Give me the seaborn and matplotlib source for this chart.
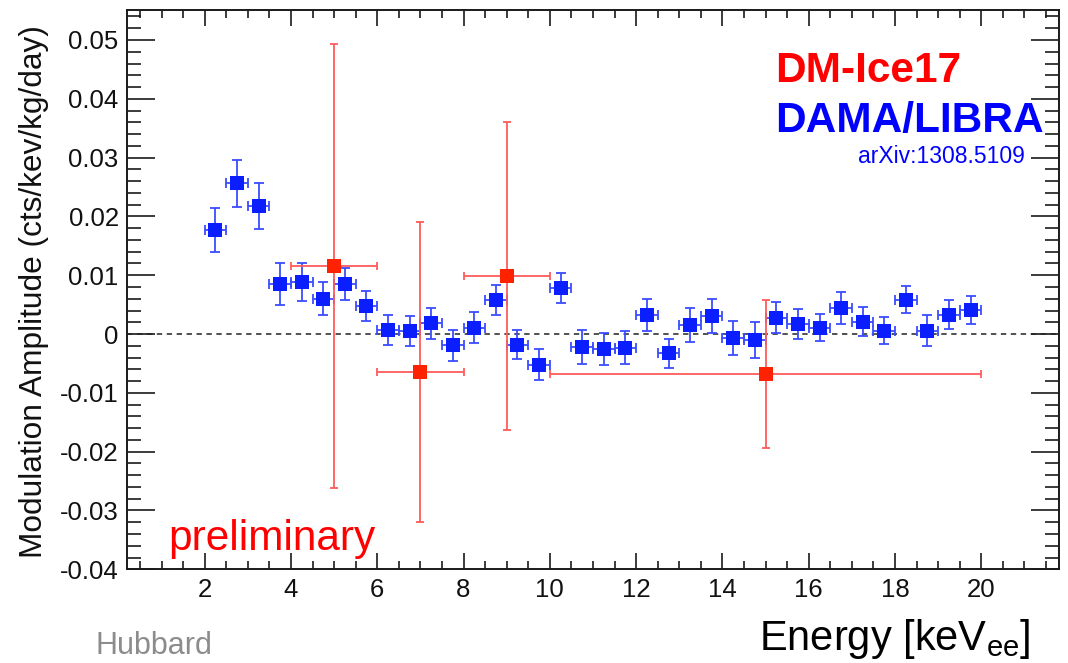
import numpy as np
import pandas as pd
import matplotlib
matplotlib.use("Agg")
import matplotlib.pyplot as plt
from matplotlib.ticker import MultipleLocator, FixedLocator, FuncFormatter
import seaborn as sns

# ---------------- data ----------------
# DAMA/LIBRA modulation amplitudes (arXiv:1308.5109), 0.5 keV bins
dama_energy = [2.25, 2.75, 3.25, 3.75, 4.25, 4.75, 5.25, 5.75, 6.25, 6.75,
               7.25, 7.75, 8.25, 8.75, 9.25, 9.75, 10.25, 10.75, 11.25, 11.75,
               12.25, 12.75, 13.25, 13.75, 14.25, 14.75, 15.25, 15.75, 16.25, 16.75,
               17.25, 17.75, 18.25, 18.75, 19.25, 19.75]
dama_amp = [0.0177, 0.0256, 0.0217, 0.0085, 0.0089, 0.0060, 0.0085, 0.0048, 0.0007, 0.0005,
            0.0018, -0.0019, 0.0011, 0.0058, -0.0018, -0.0052, 0.0078, -0.0022, -0.0026, -0.0023,
            0.0032, -0.0033, 0.0015, 0.0031, -0.0006, -0.0010, 0.0028, 0.0017, 0.0011, 0.0044,
            0.0021, 0.0006, 0.0058, 0.0006, 0.0033, 0.0041]
dama_err = [0.0037, 0.0040, 0.0039, 0.0036, 0.0032, 0.0028, 0.0027, 0.0026, 0.0026, 0.0026,
            0.0026, 0.0026, 0.0026, 0.0026, 0.0025, 0.0026, 0.0026, 0.0029, 0.0027, 0.0028,
            0.0027, 0.0025, 0.0029, 0.0029, 0.0029, 0.0030, 0.0027, 0.0026, 0.0023, 0.0027,
            0.0025, 0.0023, 0.0023, 0.0026, 0.0025, 0.0024]
dama_halfbin = 0.25

# DM-Ice17 (preliminary)
dmice_energy = [5, 7, 9, 15]
dmice_halfbin = [1, 1, 1, 5]
dmice_amp = [0.0116, -0.0065, 0.0099, -0.0068]
dmice_err = [0.0378, 0.0255, 0.0262, 0.0126]

y_major_ticks = [-0.04, -0.03, -0.02, -0.01, 0, 0.01, 0.02, 0.03, 0.04, 0.05]
x_major_ticks = [2, 4, 6, 8, 10, 12, 14, 16, 18, 20]

# ---------------- style ----------------
sns.set_theme(style="ticks")
plt.rcParams["font.family"] = ["Liberation Sans", "DejaVu Sans"]
plt.rcParams["axes.unicode_minus"] = False
plt.rcParams["mathtext.fontset"] = "custom"
plt.rcParams["mathtext.rm"] = "Liberation Sans"
plt.rcParams["mathtext.it"] = "Liberation Sans"

W, H = 1068, 663
fig, ax = plt.subplots(figsize=(W / 100, H / 100), dpi=100)
fig.subplots_adjust(left=127 / W, right=1059 / W, top=1 - 10 / H, bottom=1 - 569.3 / H)

df_dama = pd.DataFrame({"energy": dama_energy, "amp": dama_amp, "err": dama_err})
df_dmice = pd.DataFrame({"energy": dmice_energy, "amp": dmice_amp,
                         "err": dmice_err, "xerr": dmice_halfbin})

ax.axhline(0, color="#222222", lw=1.1, ls=(0, (3.5, 3.0)), zorder=1)

# DAMA/LIBRA
ax.errorbar(df_dama["energy"], df_dama["amp"], xerr=dama_halfbin, yerr=df_dama["err"],
            fmt="none", ecolor="#3a4cff", elinewidth=1.3, capsize=3.6, capthick=1.3, zorder=2)
sns.scatterplot(data=df_dama, x="energy", y="amp", marker="s", s=105, color="#0a1eff",
                linewidth=0, ax=ax, zorder=3, legend=False)

# DM-Ice17
ax.errorbar(df_dmice["energy"], df_dmice["amp"], xerr=df_dmice["xerr"], yerr=df_dmice["err"],
            fmt="none", ecolor="#ff5a5a", elinewidth=1.3, capsize=3.2, capthick=1.3, zorder=4)
sns.scatterplot(data=df_dmice, x="energy", y="amp", marker="s", s=92, color="#ff2200",
                linewidth=0, ax=ax, zorder=5, legend=False)

# ---------------- axes ----------------
ax.set_xlim(0.2, 21.8)
ax.set_ylim(-0.04, 0.0551)
ax.xaxis.set_major_locator(FixedLocator(x_major_ticks))
ax.xaxis.set_minor_locator(MultipleLocator(0.5))
ax.yaxis.set_major_locator(FixedLocator(y_major_ticks))
ax.yaxis.set_minor_locator(MultipleLocator(0.002))
ax.yaxis.set_major_formatter(FuncFormatter(lambda v, p: "0" if abs(v) < 1e-9 else f"{v:g}"))
ax.xaxis.set_major_formatter(FuncFormatter(lambda v, p: f"{v:g}"))

for s in ax.spines.values():
    s.set_color("#1a1a1a")
    s.set_linewidth(1.4)
    s.set_visible(True)

ax.tick_params(axis="x", which="major", direction="in", top=True, bottom=True,
               length=11.5, width=1.2, color="#1a1a1a", labelsize=18.5, pad=6,
               labelcolor="#111111")
ax.tick_params(axis="x", which="minor", direction="in", top=True, bottom=True,
               length=6, width=1.2, color="#1a1a1a")
ax.tick_params(axis="y", which="major", direction="in", left=True, right=True,
               length=20, width=1.2, color="#1a1a1a", labelsize=18.5, pad=6,
               labelcolor="#111111")
ax.tick_params(axis="y", which="minor", direction="in", left=True, right=True,
               length=10, width=1.2, color="#1a1a1a")

ax.set_ylabel("Modulation Amplitude (cts/kev/kg/day)", fontsize=22.8, color="#111111")
ax.yaxis.label.set_verticalalignment("center")
ax.yaxis.set_label_coords((34 - 127) / 932, (569.3 - 292) / 559.3)

ax.set_xlabel(r"Energy [keV$_{\mathrm{ee}}$]", fontsize=30, color="black")
ax.xaxis.label.set_horizontalalignment("right")
ax.xaxis.label.set_verticalalignment("baseline")
ax.xaxis.set_label_coords((1030 - 127) / 932, (569.3 - 650) / 559.3)

# ---------------- annotations ----------------
ax.text(0.695, 0.871, "DM-Ice17", transform=ax.transAxes, color="#ff0000",
        fontsize=30.5, fontweight="bold", ha="left", va="baseline")
ax.text(0.695, 0.782, "DAMA/LIBRA", transform=ax.transAxes, color="#0000ff",
        fontsize=30.5, fontweight="bold", ha="left", va="baseline")
ax.text(0.9635, 0.7265, "arXiv:1308.5109", transform=ax.transAxes, color="#0000ff",
        fontsize=16.5, ha="right", va="baseline")
ax.text(0.044, 0.0345, "preliminary", transform=ax.transAxes, color="#ff0000",
        fontsize=30.5, ha="left", va="baseline")

fig.text(95 / W, 9 / H, "Hubbard", color="#8c8c8c", fontsize=22,
         ha="left", va="baseline")

fig.savefig("out.png", dpi=100)
